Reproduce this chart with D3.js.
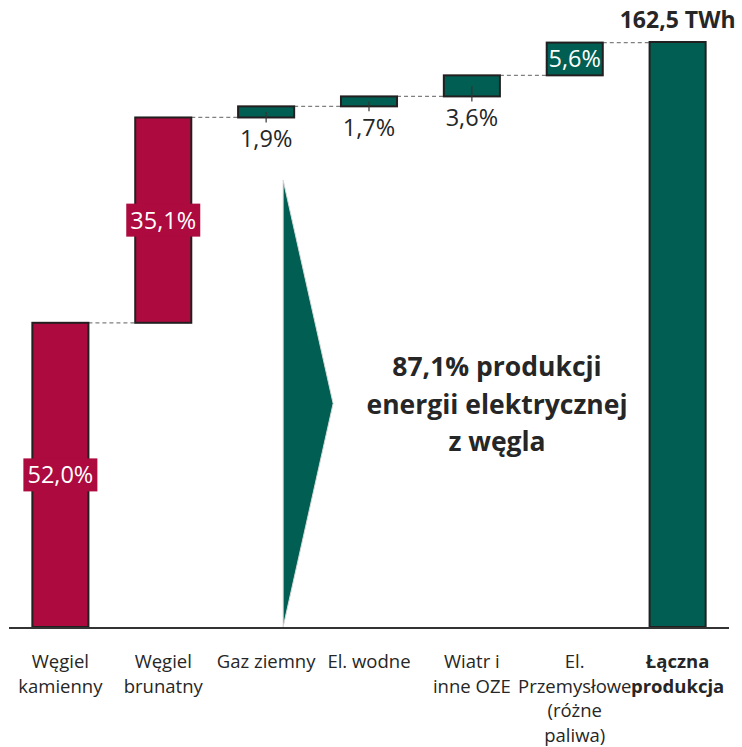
<!DOCTYPE html>
<html>
<head>
<meta charset="utf-8">
<script src="https://cdn.jsdelivr.net/npm/d3@7"></script>
<style>
    body { margin: 0; background: #fff; }
    svg { display: block; font-family: "Open Sans", "Lato", sans-serif; }
</style>
</head>
<body>
<div id="chart"></div>
<script>
'use strict';

// categories (multi-line labels) and shares of total production, %
const categories = [
    ["Węgiel", "kamienny"],
    ["Węgiel", "brunatny"],
    ["Gaz ziemny"],
    ["El. wodne"],
    ["Wiatr i", "inne OZE"],
    ["El.", "Przemysłowe", "(różne", "paliwa)"],
    ["Łączna", "produkcja"]
];
const shares = [52.0, 35.1, 1.9, 1.7, 3.6, 5.6];
const shareLabels = ["52,0%", "35,1%", "1,9%", "1,7%", "3,6%", "5,6%"];
const colors = ["#ad0a3f", "#ad0a3f", "#005f52", "#005f52", "#005f52", "#005f52"];
const totalLabel = "162,5 TWh";
const total = 100;
const noteLines = ["87,1% produkcji", "energii elektrycznej", "z węgla"];

const width = 742, height = 747;
const margin = { top: 42, right: 13, bottom: 120, left: 9 };
const baseY = height - margin.bottom;

const svg = d3.select("#chart").append("svg")
    .attr("width", width)
    .attr("height", height);

const x = d3.scaleBand()
    .domain(d3.range(categories.length))
    .range([margin.left, width - margin.right])
    .paddingInner(0.455)
    .paddingOuter(0.227);

const y = d3.scaleLinear()
    .domain([0, total])
    .range([baseY, margin.top]);

// waterfall steps: start/end of every component
let acc = 0;
const steps = shares.map((v, i) => {
    const s = { i: i, start: acc, end: acc + v, label: shareLabels[i], color: colors[i] };
    acc += v;
    return s;
});
const totalIdx = categories.length - 1;

// dashed connectors between neighbouring bars
const connectors = steps.map((s) => ({ from: s.i, to: s.i + 1, level: s.end }));
svg.append("g")
    .selectAll("line")
    .data(connectors)
    .join("line")
    .attr("x1", (d) => x(d.from) + x.bandwidth())
    .attr("x2", (d) => x(d.to))
    .attr("y1", (d) => y(d.level))
    .attr("y2", (d) => y(d.level))
    .attr("stroke", "#808080")
    .attr("stroke-width", 1.3)
    .attr("stroke-dasharray", "4,3");

// coal arrow (decorative)
const arrowLeft = x(2) + x.bandwidth() / 2 + 17;
const arrowTip = arrowLeft + 50;
svg.append("polygon")
    .attr("points", [
        [arrowLeft, y(76.4)],
        [arrowTip, (y(76.4) + baseY) / 2],
        [arrowLeft, baseY]
    ].map((p) => p.join(",")).join(" "))
    .attr("fill", "#005f52")
    .attr("stroke", "#d9d9d9")
    .attr("stroke-width", 1);

// component bars
svg.append("g")
    .selectAll("rect")
    .data(steps)
    .join("rect")
    .attr("x", (d) => x(d.i))
    .attr("width", x.bandwidth())
    .attr("y", (d) => y(d.end))
    .attr("height", (d) => y(d.start) - y(d.end))
    .attr("fill", (d) => d.color)
    .attr("stroke", "#231f20")
    .attr("stroke-width", 2);

// total bar
svg.append("rect")
    .attr("x", x(totalIdx))
    .attr("width", x.bandwidth())
    .attr("y", y(total))
    .attr("height", baseY - y(total))
    .attr("fill", "#005f52")
    .attr("stroke", "#231f20")
    .attr("stroke-width", 2);

// axis line
svg.append("line")
    .attr("x1", margin.left)
    .attr("x2", width - margin.right)
    .attr("y1", baseY + 1)
    .attr("y2", baseY + 1)
    .attr("stroke", "#333")
    .attr("stroke-width", 2);

// labels for small bars: below bar with a leader tick
const below = steps.filter((s) => s.i >= 2 && s.i <= 4);
svg.append("g")
    .selectAll("line")
    .data(below)
    .join("line")
    .attr("x1", (d) => x(d.i) + x.bandwidth() / 2)
    .attr("x2", (d) => x(d.i) + x.bandwidth() / 2)
    .attr("y1", (d) => (y(d.start) + y(d.end)) / 2)
    .attr("y2", (d) => y(d.start) + 5)
    .attr("stroke", "#333")
    .attr("stroke-width", 1.2);
svg.append("g")
    .selectAll("text")
    .data(below)
    .join("text")
    .attr("x", (d) => x(d.i) + x.bandwidth() / 2)
    .attr("y", (d) => y(d.start) + 30)
    .attr("text-anchor", "middle")
    .attr("font-size", 23.5)
    .attr("fill", "#262626")
    .text((d) => d.label);

// labels inside bars with coloured boxes
const inside = steps.filter((s) => s.i < 2 || s.i === 5);
const insideG = svg.append("g")
    .selectAll("g")
    .data(inside)
    .join("g")
    .attr("transform", (d) => `translate(${x(d.i) + x.bandwidth() / 2},${(y(d.start) + y(d.end)) / 2})`);
insideG.filter((d) => d.i < 2).append("rect")
    .attr("x", -37)
    .attr("y", -16.5)
    .attr("width", 74)
    .attr("height", 33)
    .attr("fill", (d) => d.color);
insideG.append("text")
    .attr("text-anchor", "middle")
    .attr("dy", "0.36em")
    .attr("font-size", 23.5)
    .attr("fill", "#fff")
    .text((d) => d.label);

// total label
svg.append("text")
    .attr("x", x(totalIdx) + x.bandwidth() / 2)
    .attr("y", y(total) - 14)
    .attr("text-anchor", "middle")
    .attr("font-size", 23)
    .attr("font-weight", "bold")
    .attr("fill", "#262626")
    .text(totalLabel);

// category labels
svg.append("g")
    .selectAll("text")
    .data(categories)
    .join("text")
    .attr("x", (d, i) => x(i) + x.bandwidth() / 2)
    .attr("y", baseY + 41)
    .attr("text-anchor", "middle")
    .attr("font-size", 18.5)
    .attr("font-weight", (d, i) => i === totalIdx ? "bold" : "normal")
    .attr("fill", "#262626")
    .selectAll("tspan")
    .data((d) => d)
    .join("tspan")
    .attr("x", function () { return d3.select(this.parentNode).attr("x"); })
    .attr("dy", (d, j) => j === 0 ? 0 : 24.7)
    .text((d) => d);

// note
svg.append("text")
    .attr("x", 497)
    .attr("y", 376)
    .attr("text-anchor", "middle")
    .attr("font-size", 26.5)
    .attr("font-weight", "bold")
    .attr("fill", "#262626")
    .selectAll("tspan")
    .data(noteLines)
    .join("tspan")
    .attr("x", 497)
    .attr("dy", (d, j) => j === 0 ? 0 : 37.5)
    .text((d) => d);
</script>
</body>
</html>
